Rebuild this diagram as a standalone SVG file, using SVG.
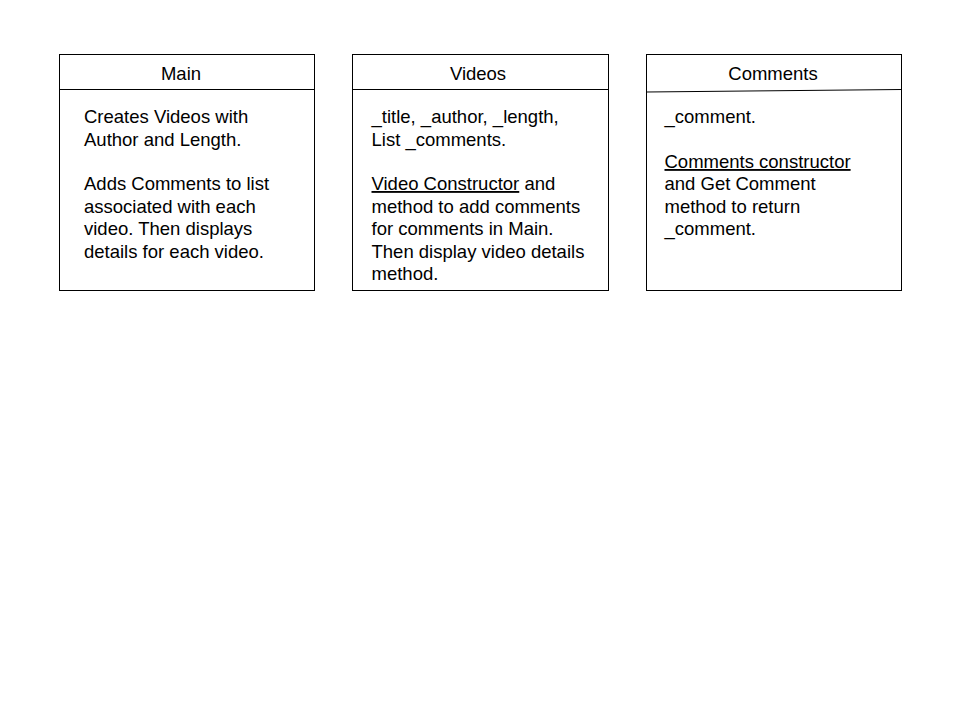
<svg xmlns="http://www.w3.org/2000/svg" width="960" height="720" viewBox="0 0 960 720">
<style>
.box{fill:#fff;stroke:#000;stroke-width:1}
.div{stroke:#000;stroke-width:1;fill:none}
text{font-family:"Liberation Sans",Arial,sans-serif;font-size:18.5px;fill:#000}
.t{text-anchor:middle}
.u{text-decoration:underline}
</style>
<rect width="960" height="720" fill="#fff"/>
<g id="main">
<rect class="box" x="59.5" y="54.5" width="255" height="236"/>
<line class="div" x1="59.5" y1="89.5" x2="314.5" y2="89.5"/>
<text class="t" x="181" y="80">Main</text>
<text x="84" y="123">Creates Videos with</text>
<text x="84" y="145.5">Author and Length.</text>
<text x="84" y="190">Adds Comments to list</text>
<text x="84" y="212.5">associated with each</text>
<text x="84" y="235">video. Then displays</text>
<text x="84" y="257.5">details for each video.</text>
</g>
<g id="videos">
<rect class="box" x="352.5" y="54.5" width="256" height="236"/>
<line class="div" x1="352.5" y1="89.5" x2="608.5" y2="89.5"/>
<text class="t" x="478" y="80">Videos</text>
<text x="371.5" y="123">_title, _author, _length,</text>
<text x="371.5" y="145.5">List _comments.</text>
<text x="371.5" y="190"><tspan class="u">Video Constructor</tspan> and</text>
<text x="371.5" y="212.5">method to add comments</text>
<text x="371.5" y="235">for comments in Main.</text>
<text x="371.5" y="257.5">Then display video details</text>
<text x="371.5" y="280">method.</text>
</g>
<g id="comments">
<rect class="box" x="646.5" y="54.5" width="255" height="236"/>
<line class="div" x1="646.5" y1="92" x2="901.5" y2="89.5"/>
<text class="t" x="773" y="80">Comments</text>
<text x="664.5" y="123">_comment.</text>
<text x="664.5" y="168"><tspan class="u">Comments constructor</tspan></text>
<text x="664.5" y="190">and Get Comment</text>
<text x="664.5" y="212.5">method to return</text>
<text x="664.5" y="235">_comment.</text>
</g>
<g id="connectors"></g>
</svg>
